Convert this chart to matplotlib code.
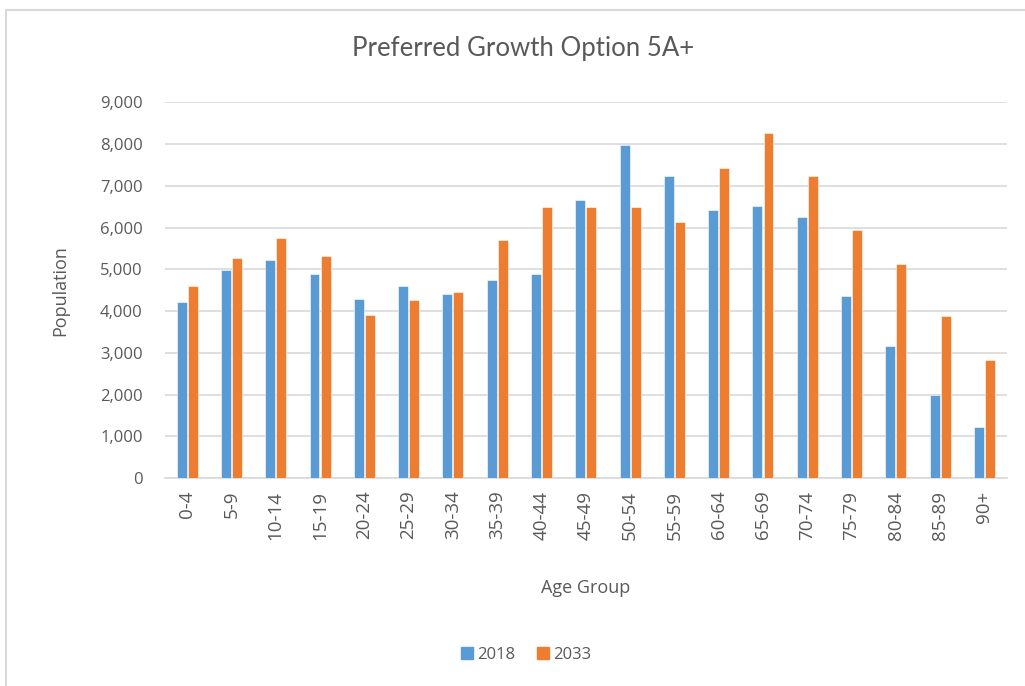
import matplotlib.pyplot as plt
import numpy as np
from matplotlib.lines import Line2D
from matplotlib.ticker import FuncFormatter

age_groups = ["0-4", "5-9", "10-14", "15-19", "20-24", "25-29", "30-34", "35-39",
              "40-44", "45-49", "50-54", "55-59", "60-64", "65-69", "70-74",
              "75-79", "80-84", "85-89", "90+"]
pop_2018 = [4210, 4980, 5220, 4890, 4300, 4590, 4400, 4740, 4890, 6670,
            7970, 7240, 6430, 6520, 6240, 4350, 3160, 2000, 1220]
pop_2033 = [4590, 5260, 5760, 5320, 3910, 4260, 4450, 5690, 6480, 6480,
            6480, 6130, 7430, 8260, 7240, 5940, 5130, 3870, 2820]

BLUE = "#5B9BD5"
ORANGE = "#ED7D31"
TEXT = "#595959"
FONT = "Open Sans"

plt.rcParams['font.family'] = [FONT, 'DejaVu Sans']

fig = plt.figure(figsize=(10.25, 6.86), dpi=100)
ax = fig.add_axes([0.161, 0.303, 0.821, 0.548])

x = np.arange(len(age_groups))
w = 0.225
gap = 0.025
ax.bar(x - (w + gap) / 2, pop_2018, width=w, color=BLUE, edgecolor="white",
       linewidth=0.4, label="2018", zorder=3)
ax.bar(x + (w + gap) / 2, pop_2033, width=w, color=ORANGE, edgecolor="white",
       linewidth=0.4, label="2033", zorder=3)

ax.set_xlim(-0.5, len(age_groups) - 0.5)
ax.set_ylim(0, 9000)
ax.set_yticks(range(0, 9001, 1000))
ax.yaxis.set_major_formatter(FuncFormatter(lambda v, p: f"{int(v):,}"))
ax.set_xticks(x)
ax.set_xticklabels(age_groups, rotation=90)
ax.grid(axis="y", color="#D9D9D9", linewidth=1.2, zorder=0)
for s in ["top", "right", "left"]:
    ax.spines[s].set_visible(False)
ax.spines["bottom"].set_color("#D9D9D9")
ax.spines["bottom"].set_linewidth(1.2)
ax.tick_params(axis="both", length=0, colors=TEXT, labelsize=12)
ax.tick_params(axis="x", labelsize=13.5, pad=9)
ax.tick_params(axis="y", pad=16)

ax.set_xlabel("Age Group", fontsize=13, color=TEXT, labelpad=28)
ax.set_ylabel("Population", fontsize=13, color=TEXT, labelpad=22)

fig.text(0.51, 0.93, "Preferred Growth Option 5A+", ha="center", va="center",
         fontsize=18.5, color=TEXT, family="Lato")

handles = [Line2D([], [], marker="s", linestyle="none", markersize=9,
                  markerfacecolor=BLUE, markeredgecolor=BLUE),
           Line2D([], [], marker="s", linestyle="none", markersize=9,
                  markerfacecolor=ORANGE, markeredgecolor=ORANGE)]
fig.legend(handles, ["2018", "2033"], loc="center", bbox_to_anchor=(0.512, 0.045),
           ncol=2, frameon=False, fontsize=12, labelcolor=TEXT,
           handletextpad=0.1, columnspacing=1.2, handlelength=1.0)

# chart frame (only left and top edges visible in the screenshot)
fig.add_artist(Line2D([0.006, 0.006], [0, 0.986], transform=fig.transFigure,
                      color="#D9D9D9", linewidth=1.5))
fig.add_artist(Line2D([0.006, 1.0], [0.986, 0.986], transform=fig.transFigure,
                      color="#D9D9D9", linewidth=1.5))

fig.savefig("out.png", dpi=100)
